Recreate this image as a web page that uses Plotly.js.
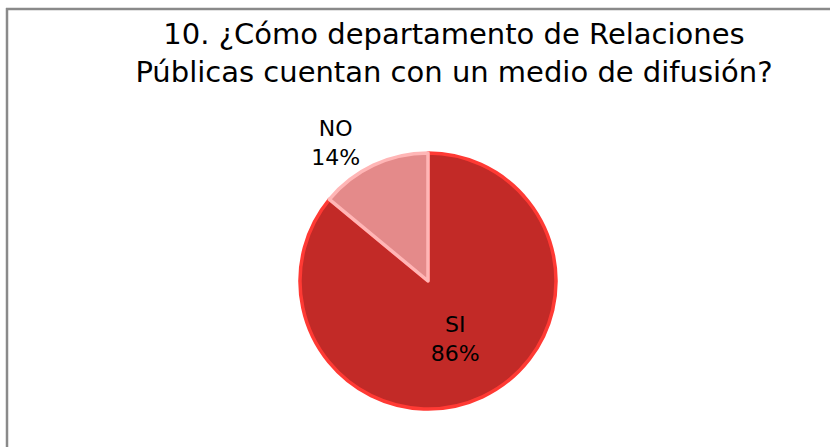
<!DOCTYPE html>
<html>
<head>
<meta charset="utf-8">
<script src="https://cdn.plot.ly/plotly-3.0.1.min.js"></script>
<style>
  html, body { margin: 0; padding: 0; background: #ffffff; }
  #chart { width: 830px; height: 447px; }
</style>
</head>
<body>
<div id="chart"></div>
<script>
const categories = ["SI", "NO"];
const values = [86, 14];
const sliceColors = ["#c22a27", "#e48a8a"];
const sliceLines = ["#ff3a34", "#ffb6b6"];
const titleText = "10. ¿Cómo departamento de Relaciones<br>Públicas cuentan con un medio de difusión?";

const W = 830, H = 447;
const cx = 428, cy = 281, r = 128;
const FONT = "'DejaVu Sans', sans-serif";

const trace = {
  type: "pie",
  labels: categories,
  values: values,
  sort: false,
  direction: "clockwise",
  rotation: 0,
  marker: { colors: sliceColors, line: { color: sliceLines, width: 3.5 } },
  texttemplate: "%{label}<br>%{percent:.0%}",
  textposition: ["inside", "outside"],
  insidetextorientation: "horizontal",
  textfont: { family: FONT, size: 22, color: "#000000" },
  outsidetextfont: { family: FONT, size: 22, color: "#000000" },
  insidetextfont: { family: FONT, size: 22, color: "#000000" },
  domain: { x: [(cx - r) / W, (cx + r) / W], y: [(H - cy - r) / H, (H - cy + r) / H] },
  hoverinfo: "label+percent",
  showlegend: false
};

const layout = {
  width: W, height: H,
  margin: { l: 0, r: 0, t: 0, b: 0 },
  paper_bgcolor: "#ffffff",
  showlegend: false,
  title: {
    text: titleText,
    font: { family: FONT, size: 29, color: "#000000" },
    x: 454 / W, xanchor: "center",
    y: 1 - 44 / H, yanchor: "top",
    xref: "paper", yref: "paper"
  },
  shapes: [
    { type: "line", xref: "paper", yref: "paper", x0: 7 / W, x1: 7 / W, y0: 1 - 8 / H, y1: 0, line: { color: "#8a8a8a", width: 2.5 } },
    { type: "line", xref: "paper", yref: "paper", x0: 6 / W, x1: 1, y0: 1 - 9 / H, y1: 1 - 9 / H, line: { color: "#8a8a8a", width: 2.5 } }
  ]
};

Plotly.newPlot("chart", [trace], layout, { displayModeBar: false, staticPlot: true });
</script>
</body>
</html>
